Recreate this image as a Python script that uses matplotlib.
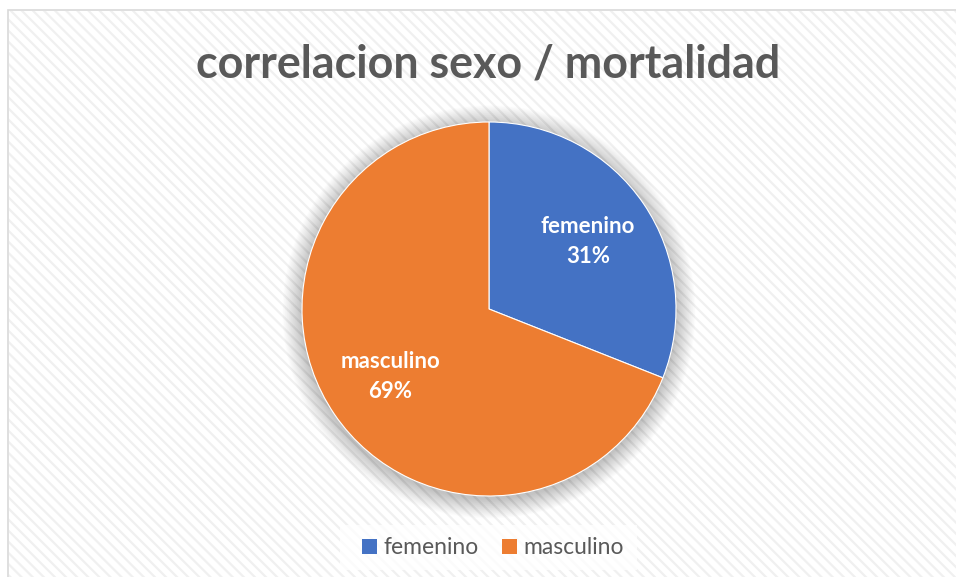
import matplotlib
matplotlib.use("Agg")
import matplotlib.pyplot as plt
from matplotlib.patches import Rectangle, Circle

title = "correlacion sexo / mortalidad"
categories = ["femenino", "masculino"]
values = [31, 69]
colors = ["#4472C4", "#ED7D31"]

plt.rcParams['font.family'] = ['Lato', 'DejaVu Sans']
plt.rcParams['hatch.linewidth'] = 1.6

W, H = 956, 577
fig = plt.figure(figsize=(W / 100, H / 100), dpi=100)
fig.patch.set_facecolor("white")

# background chart area with diagonal stripe pattern
bg = fig.add_axes([0, 0, 1, 1])
bg.set_xlim(0, W)
bg.set_ylim(H, 0)
bg.axis("off")
bg.add_patch(Rectangle((8, 10), W, H, facecolor="white", edgecolor="#d9d9d9",
                       linewidth=1.2, zorder=0))
bg.add_patch(Rectangle((9, 11), W, H, facecolor="none", edgecolor="#f0f0f0",
                       hatch="\\\\\\", linewidth=0, zorder=1))
# legend backdrop
bg.add_patch(Rectangle((340, 525), 297, 45, facecolor="white", edgecolor="none",
                       alpha=0.75, zorder=2))

bg.text(488, 78, title, ha="center", va="baseline", fontsize=32.3,
        fontweight="bold", color="#595959", zorder=5)

# pie
cx, cy, r = 489, 309, 187
ax = fig.add_axes([(cx - r) / W, (H - cy - r) / H, 2 * r / W, 2 * r / H])
ax.set_xlim(-1, 1)
ax.set_ylim(-1, 1)
ax.set_aspect("equal")
ax.axis("off")

# soft diffuse shadow
n = 30
for i in range(n):
    ax.add_patch(Circle((0.0, -0.015), 1.0 + 0.0035 * (i + 1), facecolor="black",
                        edgecolor="none", alpha=0.0065, zorder=0, clip_on=False))

wedges, texts, autotexts = ax.pie(
    values, colors=colors, startangle=90, counterclock=False,
    radius=1.0, autopct=lambda p: f"{p:.0f}%", pctdistance=0.64,
    wedgeprops=dict(linewidth=0.8, edgecolor="white"),
    textprops=dict(color="white", fontsize=16, fontweight="bold"))
for t in texts:
    t.set_visible(False)
for cat, at in zip(categories, autotexts):
    at.set_text(f"{cat}\n{at.get_text()}")
    at.set_linespacing(1.5)
    at.set_zorder(6)
ax.set_xlim(-1, 1)
ax.set_ylim(-1, 1)

leg = fig.legend(wedges, categories, loc="center", ncol=2,
                 bbox_to_anchor=(493 / W, 1 - 548 / H), frameon=False,
                 fontsize=16.5, handlelength=0.64, handleheight=0.64,
                 handletextpad=0.3, columnspacing=1.0, labelcolor="#595959")
for h in leg.legend_handles:
    h.set_edgecolor("none")

fig.savefig("out.png", dpi=100)
